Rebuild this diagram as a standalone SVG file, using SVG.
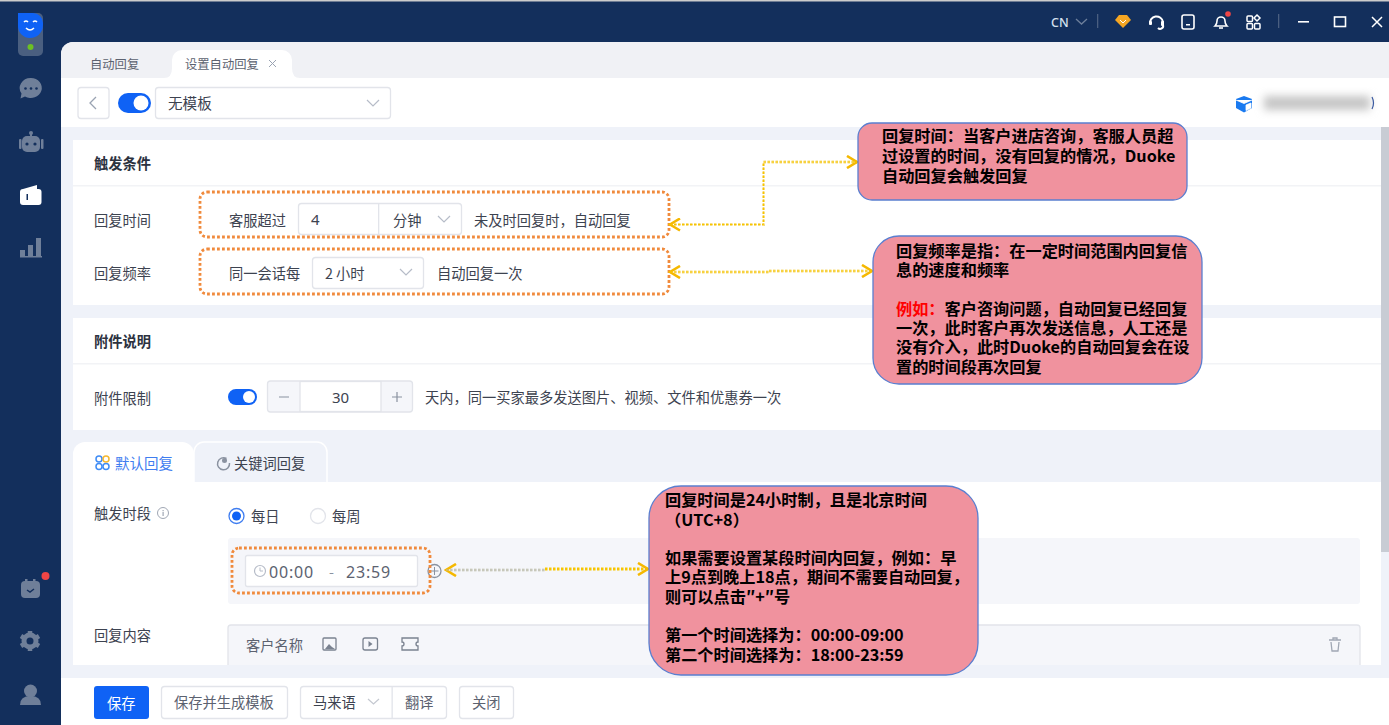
<svg xmlns="http://www.w3.org/2000/svg" width="1389" height="725" viewBox="0 0 1389 725">
<defs>
<filter id="blur" x="-10%" y="-60%" width="120%" height="220%"><feGaussianBlur stdDeviation="4"/></filter>
<marker id="chev" viewBox="0 0 14 14" refX="12" refY="7" markerWidth="14" markerHeight="14" markerUnits="userSpaceOnUse" orient="auto-start-reverse"><path d="M2 1 L12 7 L2 13" fill="none" stroke="#f5b800" stroke-width="2.6"/></marker>
</defs>
<style>
text{font-family:"Noto Sans CJK SC","Noto Sans",sans-serif;font-size:14.25px;fill:#3d4350;transform:translateY(.7px)}
.b{font-weight:700;fill:#2c3240}
.g{fill:#5c6270}
.s{font-size:12.3px}
.l{font-family:"Noto Sans",sans-serif}
.tm{font-family:"Noto Sans",sans-serif;font-size:16px;letter-spacing:.8px;fill:#5c6270}
.ic{fill:#6f7f99}
.box{fill:#fff;stroke:#e2e4ea;stroke-width:1.3}
.gray{fill:#f5f6fa;stroke:#e2e4ea;stroke-width:1.3}
.line{fill:none;stroke:#9aa3b2;stroke-width:1.3}
.dot{fill:none;stroke:#f08a3c;stroke-width:2.8;stroke-dasharray:2.8 2.2}
.card{fill:#fff}
.call{fill:#f0929e;stroke:#5a7fd0;stroke-width:1.3}
.ct{font-size:16.2px;font-weight:700;fill:#000;transform:none}
.conn{fill:none;stroke:#f7c500;stroke-width:3;stroke-dasharray:2.5 1.5}
.conn2{fill:none;stroke:#f7dd80;stroke-width:3;stroke-dasharray:2.5 1.5}
.core{fill:none;stroke:#f7c500;stroke-width:1;stroke-dasharray:2.5 1.5}
</style>
<rect id="bg" width="1389" height="725" fill="#132f5c"/>
<rect x="0" y="0" width="1389" height="1.5" fill="#ccc"/>
<g id="sidebar">
<rect x="18" y="13" width="25" height="43" rx="5" fill="#4a5f80"/>
<path d="M18 13h15a10 10 0 0 1 10 10v2a13 13 0 0 1-13 13h0a12 12 0 0 1-12-12z" fill="#0f62f5"/>
<path d="M24 22q2-2 4 0M33 22q2-2 4 0M26 28q4 4 8 0" fill="none" stroke="#fff" stroke-width="1.5"/>
<circle cx="30.500" cy="47" r="3" fill="#6cc024"/>
<g class="ic"><path d="M31 78a11 10 0 1 1-6 18.500l-4.500 2 1-5A11 10 0 0 1 31 78z"/>
<circle cx="25.500" cy="88.500" r="1.300" fill="#132f5c"/><circle cx="31" cy="88.500" r="1.300" fill="#132f5c"/><circle cx="36.500" cy="88.500" r="1.300" fill="#132f5c"/></g>
<g class="ic"><circle cx="31" cy="133" r="2"/><rect x="30" y="133" width="2" height="4"/><rect x="22" y="136" width="18" height="16" rx="5"/><rect x="19" y="139" width="2.500" height="10" rx="1"/><rect x="41" y="139" width="2.500" height="10" rx="1"/><circle cx="27" cy="144" r="1.600" fill="#132f5c"/><circle cx="35" cy="144" r="1.600" fill="#132f5c"/></g>
<g fill="#fff"><path d="M23 189l14-4v4z"/><rect x="20" y="189" width="21.500" height="16" rx="3"/><rect x="26.500" y="194" width="1.500" height="6" fill="#132f5c"/></g>
<g class="ic"><rect x="20" y="250" width="5" height="7"/><rect x="28" y="245" width="5" height="12"/><rect x="36" y="238" width="5" height="19"/><rect x="20" y="256" width="22" height="1.500"/></g>
<g class="ic"><rect x="21" y="581" width="19" height="17" rx="4"/><rect x="25" y="579" width="2.500" height="4"/><rect x="33" y="579" width="2.500" height="4"/><path d="M27 590l3 2 4-3" fill="none" stroke="#132f5c" stroke-width="1.500"/></g>
<circle cx="45.500" cy="576" r="4" fill="#f04545"/>
<g class="ic"><circle cx="30" cy="641" r="8.500"/><path d="M30 631v4M30 647v4M21 636l4 2.500M35 643.500l4 2.500M21 646l4-2.500M35 638.500l4-2.500" stroke="#6f7f99" stroke-width="4.500"/><circle cx="30" cy="641" r="3.500" fill="#132f5c"/></g>
<g class="ic"><circle cx="30.500" cy="691" r="6.500"/><path d="M20 705q0-9 10.500-9t10.500 9z"/></g>
</g>
<g id="window">
<path d="M61 54a12 12 0 0 1 12-12H1389V725H61z" fill="#eff2f9"/>
<path d="M61 79V54a12 12 0 0 1 12-12H1389V79z" fill="#f0f1f5"/>
<rect x="61" y="78" width="1328" height="49" fill="#fff"/>
<rect x="61" y="678" width="1328" height="47" fill="#fff"/>
</g>
<g id="titlebar">
<text x="1051" y="26" style="fill:#d5e0ee;font-family:'Noto Sans',sans-serif;font-weight:500;font-size:12.5px">CN</text>
<path d="M1076 19l5.500 5 5.500-5" fill="none" stroke="#6d7f9b" stroke-width="1.300"/>
<rect x="1097" y="14" width="1.300" height="14" fill="#4a5f80"/>
<path d="M1119 15h8l4 5-8 8-8-8z" fill="#f5a623"/><path d="M1120 20l3 3 3-3" fill="none" stroke="#fff" stroke-width="1"/>
<path d="M1150 24a6.500 6.500 0 1 1 13 -2v3a3 3 0 0 1-5 3" fill="none" stroke="#fff" stroke-width="2"/><rect x="1149" y="21" width="3" height="4" rx="1" fill="#fff"/><rect x="1161" y="21" width="3" height="5" rx="1" fill="#fff"/>
<rect x="1182" y="15" width="12" height="14" rx="2" fill="none" stroke="#fff" stroke-width="1.600"/><rect x="1186" y="24" width="4" height="1.500" fill="#fff"/>
<path d="M1215 26q2-2 2-5a4 4 0 0 1 8 0q0 3 2 5z" fill="none" stroke="#fff" stroke-width="1.600"/><path d="M1219 28h4" stroke="#fff" stroke-width="1.600"/>
<circle cx="1228" cy="14" r="2.800" fill="#f04545"/>
<g fill="none" stroke="#fff" stroke-width="1.500"><rect x="1247" y="16" width="5.500" height="5.500" rx="1"/><rect x="1247" y="23.500" width="5.500" height="5.500" rx="1"/><rect x="1254.500" y="23.500" width="5.500" height="5.500" rx="1"/><path d="M1257 15l3 3-3 3-3-3z"/></g>
<rect x="1278" y="14" width="1.300" height="14" fill="#4a5f80"/>
<rect x="1298" y="21" width="11" height="1.600" fill="#fff"/>
<rect x="1334.500" y="17" width="11" height="9.500" fill="none" stroke="#fff" stroke-width="1.600"/>
<path d="M1372 17l10 10M1382 17l-10 10" stroke="#fff" stroke-width="1.500"/>
</g>
<g id="tabs">
<text x="90" y="68" class="g s">自动回复</text>
<path d="M164 78q8 0 8-10v-8a10 10 0 0 1 10-10h100a10 10 0 0 1 10 10v8q0 10 8 10z" fill="#fff"/>
<text x="185" y="68" class="g s">设置自动回复</text>
<path d="M269 60l7 7M276 60l-7 7" stroke="#9aa3b2" stroke-width="1"/>
</g>
<g id="toolbar">
<rect x="78" y="87.500" width="31" height="31" rx="3" class="box"/>
<path d="M96 97l-6 6 6 6" class="line"/>
<rect x="118" y="93" width="33" height="20" rx="10" fill="#0f62f5"/><circle cx="141" cy="103" r="7.500" fill="#fff"/>
<rect x="155.500" y="87.500" width="235" height="31" rx="3" class="box"/>
<text x="168" y="108" style="font-size:14.6px">无模板</text>
<path d="M367 100l6 6 6-6" fill="none" stroke="#b6bcc8" stroke-width="1.200"/>
<path d="M1236 99l8-3 8 3v9l-8 4.500-8-4.500z" fill="#1a7af0"/><path d="M1236 100l8 3.500 8-3.500M1246 105l5-2v5l-5 2.500z" fill="#fff" stroke="#fff" stroke-width=".8"/>
<rect x="1264" y="96" width="106" height="14" fill="#c6c6c6" filter="url(#blur)"/>
<path d="M1372 97q3 6 0 12" fill="none" stroke="#3a5aa0" stroke-width="1.200"/>
</g>
<g id="scrollbar"><rect x="1381" y="127" width="8" height="425" fill="#c8ccd4"/></g>
<g id="card-trigger">
<rect x="73" y="140" width="1308" height="165" class="card"/>
<rect x="73" y="185" width="1308" height="1.500" fill="#f2f3f6"/>
<text x="94" y="168" class="b">触发条件</text>
<text x="94" y="225">回复时间</text>
<text x="94" y="278">回复频率</text>
<text x="229" y="225">客服超过</text>
<rect x="298.500" y="203.500" width="163" height="31" rx="3" class="box"/>
<rect x="378" y="204" width="1.300" height="30" fill="#e2e4ea"/>
<text x="311" y="224" class="l" style="font-size:15px">4</text>
<text x="393" y="225">分钟</text>
<path d="M438 216l6 6 6-6" fill="none" stroke="#b6bcc8" stroke-width="1.200"/>
<text x="474" y="225">未及时回复时，自动回复</text>
<text x="229" y="278">同一会话每</text>
<rect x="312.500" y="257.500" width="111" height="31" rx="3" class="box"/>
<text x="325" y="278">2 小时</text>
<path d="M400 269l6 6 6-6" fill="none" stroke="#b6bcc8" stroke-width="1.200"/>
<text x="437" y="278">自动回复一次</text>
</g>
<g id="card-attach">
<rect x="73" y="318" width="1308" height="112" class="card"/>
<rect x="73" y="363" width="1308" height="1.500" fill="#f2f3f6"/>
<text x="94" y="346" class="b">附件说明</text>
<text x="94" y="403">附件限制</text>
<rect x="228" y="389" width="29" height="16" rx="8" fill="#0f62f5"/><circle cx="249" cy="397" r="6" fill="#fff"/>
<rect x="267.500" y="381" width="145" height="31" rx="3" class="gray"/>
<rect x="300" y="381.500" width="81" height="30" fill="#fff" stroke="#e2e4ea" stroke-width="1.300"/>
<path d="M279 397h10M392 397h10M397 392v10" stroke="#8a92a0" stroke-width="1.200"/>
<text x="332" y="402" class="l" style="font-size:15px">30</text>
<text x="425" y="402">天内，同一买家最多发送图片、视频、文件和优惠券一次</text>
</g>
<g id="card-reply">
<rect x="73" y="482" width="1308" height="183" class="card"/>
<path d="M73 482v-28a12 12 0 0 1 12-12h97a12 12 0 0 1 12 12v28z" fill="#fff"/>
<path d="M194 482v-30a10 10 0 0 1 10-10h113a10 10 0 0 1 10 10v30" fill="#eff2f9" stroke="#fff" stroke-width="1.500"/>
<g fill="none" stroke="#3f8cf5" stroke-width="1.500"><circle cx="99" cy="459" r="3"/><circle cx="99" cy="466.500" r="3"/><circle cx="106" cy="466.500" r="3"/></g><circle cx="106" cy="459" r="3" fill="none" stroke="#f5b830" stroke-width="1.500"/>
<text x="115" y="468" style="fill:#3f7df0;font-size:14.5px">默认回复</text>
<path d="M226.500 458.500a6 6 0 1 0 3 4.500" fill="none" stroke="#8a92a0" stroke-width="1.500"/><circle cx="224.500" cy="460.500" r="2.500" fill="#8a92a0"/>
<text x="234" y="468">关键词回复</text>
<text x="94" y="518">触发时段</text>
<circle cx="163" cy="513" r="5.500" fill="none" stroke="#a0a7b4"/><rect x="162.500" y="512" width="1.200" height="4" fill="#a0a7b4"/><rect x="162.500" y="510" width="1.200" height="1.200" fill="#a0a7b4"/>
<circle cx="236.500" cy="516" r="7.500" fill="#fff" stroke="#3f7df0" stroke-width="1.300"/><circle cx="236.500" cy="516" r="4.500" fill="#0f62f5"/>
<text x="251" y="521">每日</text>
<circle cx="318" cy="516" r="7.500" fill="#fff" stroke="#e2e4ea" stroke-width="1.300"/>
<text x="332" y="521">每周</text>
<rect x="228" y="538" width="1132" height="66" rx="3" fill="#f5f6fa"/>
<rect x="245.500" y="555.500" width="172" height="31" rx="2" class="box"/>
<circle cx="260" cy="571" r="5.500" fill="none" stroke="#b6bcc8" stroke-width="1.200"/><path d="M260 567.500v3.500h3" fill="none" stroke="#b6bcc8"/>
<text x="269" y="577" class="tm">00:00</text>
<text x="329" y="576" style="fill:#8a92a0">-</text>
<text x="346" y="577" class="tm">23:59</text>
<circle cx="434.500" cy="571" r="6.500" fill="#f5f6fa" stroke="#8a92a0" stroke-width="1.300"/><path d="M430.500 571h8M434.500 567v8" stroke="#8a92a0" stroke-width="1"/>
<text x="94" y="640">回复内容</text>
<path d="M228 665v-37a3 3 0 0 1 3-3h1126a3 3 0 0 1 3 3v37" fill="#f5f6fa" stroke="#e2e4ea" stroke-width="1.300"/>
<text x="246" y="650" class="g">客户名称</text>
<rect x="323" y="638" width="13" height="12" rx="1" fill="none" stroke="#7a8290" stroke-width="1.300"/><path d="M325 649l4-5 3 3 3 2z" fill="#7a8290"/>
<rect x="363" y="638" width="14.500" height="12" rx="2" fill="none" stroke="#7a8290" stroke-width="1.300"/><path d="M368.500 641l4 3-4 3z" fill="#7a8290"/>
<path d="M402 638h16v4a2 2 0 0 0 0 4v4h-16v-4a2 2 0 0 0 0-4z" fill="none" stroke="#7a8290" stroke-width="1.300"/>
<path d="M1329 640h12M1333 640v-2h4v2M1331 642l1 9h6l1-9" fill="none" stroke="#a0a7b4" stroke-width="1.300"/>
</g>
<g id="footer">
<rect x="94" y="686" width="55" height="33" rx="3" fill="#0f62f5"/>
<text x="107" y="708" style="fill:#fff">保存</text>
<rect x="161.500" y="686.500" width="126" height="32" rx="3" class="box"/>
<text x="174" y="707" class="g">保存并生成模板</text>
<rect x="300.500" y="686.500" width="146" height="32" rx="3" class="box"/>
<rect x="391.500" y="687" width="1.300" height="31" fill="#e2e4ea"/>
<text x="313" y="707">马来语</text>
<path d="M368 700l5.500 5 5.500-5" transform="translate(0 -1)" fill="none" stroke="#c4c8d0" stroke-width="1.200"/>
<text x="405" y="707" class="g">翻译</text>
<rect x="459.500" y="686.500" width="54" height="32" rx="3" class="box"/>
<text x="472" y="707" class="g">关闭</text>
</g>
<g id="highlights">
<rect x="200" y="192" width="469" height="45" rx="7" class="dot"/>
<rect x="200" y="249" width="469" height="45" rx="7" class="dot"/>
<rect x="232" y="548" width="198" height="45" rx="7" class="dot"/>
</g>
<g id="connectors">
<path d="M670 224.500H763.500V162H857" class="conn2" marker-start="url(#chev)" marker-end="url(#chev)"/>
<path d="M670 224.500H763.500V162H857" class="core"/>
<path d="M670 272H769" class="conn2" marker-start="url(#chev)"/>
<path d="M769 271H872" class="conn2" marker-end="url(#chev)"/>
<path d="M670 272H769" class="core"/>
<path d="M769 271H872" class="core"/>
<path d="M446 570H545" fill="none" stroke="#d6d6cc" stroke-width="3" stroke-dasharray="2.500 1.500" marker-start="url(#chev)"/>
<path d="M446 570H545" fill="none" stroke="#b8b8a8" stroke-width="1" stroke-dasharray="2.500 1.500"/>
<path d="M545 569H648" class="conn" marker-end="url(#chev)"/>
</g>
<g id="callout-time">
<rect x="858" y="123" width="329" height="77" rx="14" class="call"/>
<text class="ct" x="882" y="142">回复时间：当客户进店咨询，客服人员超</text>
<text class="ct" x="882" y="162">过设置的时间，没有回复的情况，Duoke</text>
<text class="ct" x="882" y="182">自动回复会触发回复</text>
</g>
<g id="callout-frequency">
<rect x="873" y="236" width="329" height="148" rx="26" class="call"/>
<text class="ct" x="896" y="257">回复频率是指：在一定时间范围内回复信</text>
<text class="ct" x="896" y="276">息的速度和频率</text>
<text class="ct" x="896" y="315"><tspan style="fill:#f00">例如：</tspan>客户咨询问题，自动回复已经回复</text>
<text class="ct" x="896" y="334">一次，此时客户再次发送信息，人工还是</text>
<text class="ct" x="896" y="353">没有介入，此时Duoke的自动回复会在设</text>
<text class="ct" x="896" y="373">置的时间段再次回复</text>
</g>
<g id="callout-period">
<rect x="649" y="486" width="329" height="189" rx="32" class="call"/>
<text class="ct" x="665" y="506">回复时间是24小时制，且是北京时间</text>
<text class="ct" x="665" y="526">（UTC+8）</text>
<text class="ct" x="665" y="564">如果需要设置某段时间内回复，例如：早</text>
<text class="ct" x="665" y="583">上9点到晚上18点，期间不需要自动回复，</text>
<text class="ct" x="665" y="603">则可以点击″+″号</text>
<text class="ct" x="665" y="641">第一个时间选择为：00:00-09:00</text>
<text class="ct" x="665" y="661">第二个时间选择为：18:00-23:59</text>
</g>
</svg>
